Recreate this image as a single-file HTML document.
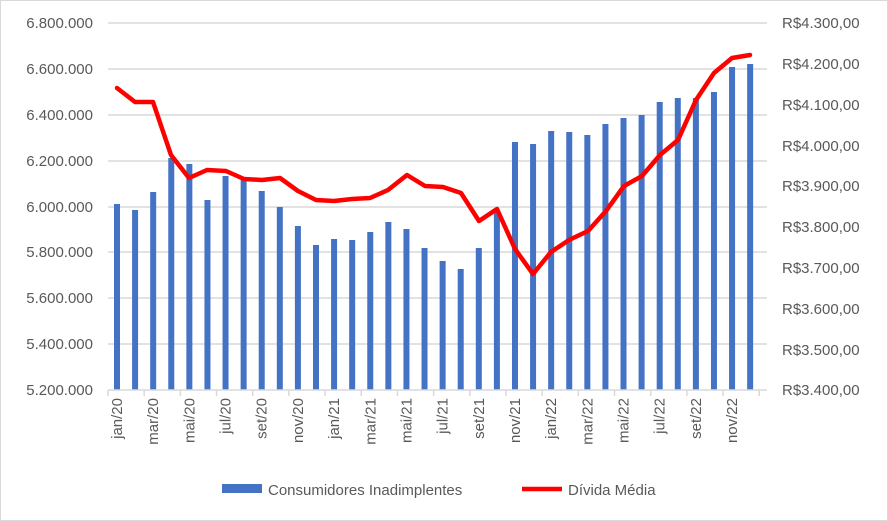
<!DOCTYPE html>
<html><head><meta charset="utf-8"><style>
body{margin:0;background:#fff}
svg{display:block;font-family:"Liberation Sans",sans-serif}
</style></head><body>
<svg width="888" height="521" viewBox="0 0 888 521">
<rect x="0.5" y="0.5" width="887" height="520" fill="#fff" stroke="#d9d9d9"/>
<g stroke="#d9d9d9" stroke-width="1.5">
<line x1="108" x2="767" y1="23" y2="23"/><line x1="108" x2="767" y1="69" y2="69"/>
<line x1="108" x2="767" y1="115" y2="115"/><line x1="108" x2="767" y1="161" y2="161"/>
<line x1="108" x2="767" y1="207" y2="207"/><line x1="108" x2="767" y1="252" y2="252"/>
<line x1="108" x2="767" y1="298" y2="298"/><line x1="108" x2="767" y1="344" y2="344"/>
</g>
<g fill="#595959" font-size="15" text-anchor="end">
<text x="93" y="28">6.800.000</text><text x="93" y="74">6.600.000</text><text x="93" y="120">6.400.000</text>
<text x="93" y="166">6.200.000</text><text x="93" y="212">6.000.000</text><text x="93" y="257">5.800.000</text>
<text x="93" y="303">5.600.000</text><text x="93" y="349">5.400.000</text><text x="93" y="395">5.200.000</text>
</g>
<g fill="#595959" font-size="15" text-anchor="start">
<text x="782" y="28">R$4.300,00</text><text x="782" y="69">R$4.200,00</text><text x="782" y="110">R$4.100,00</text>
<text x="782" y="151">R$4.000,00</text><text x="782" y="191">R$3.900,00</text><text x="782" y="232">R$3.800,00</text>
<text x="782" y="273">R$3.700,00</text><text x="782" y="314">R$3.600,00</text><text x="782" y="355">R$3.500,00</text>
<text x="782" y="395">R$3.400,00</text>
</g>
<g fill="#4472c4" id="bars"></g>
<line x1="108" x2="767" y1="390" y2="390" stroke="#d9d9d9" stroke-width="1.5"/>
<g id="ticks" stroke="#d9d9d9" stroke-width="1.5"></g>
<g id="labels" fill="#595959" font-size="15"></g>
<polyline fill="none" stroke="#ff0000" stroke-width="4.5" stroke-linejoin="round" stroke-linecap="round" points="117,88 135,102 153,102 171,155 189,178 207,170 226,171 244,179 262,180 280,178 298,191 316,200 334,201 352,199 370,198 388,190 407,175 425,186 443,187 461,193 479,221 497,209 515,249 533,274 551,252 569,240 588,231 606,211 624,186 642,176 660,155 678,140 696,100 714,73 732,58 750,55"/>
<rect x="222" y="484" width="40" height="9" fill="#4472c4"/>
<text x="268" y="495" font-size="15" fill="#595959">Consumidores Inadimplentes</text>
<line x1="522" x2="562" y1="489" y2="489" stroke="#ff0000" stroke-width="4.5"/>
<text x="568" y="495" font-size="15" fill="#595959">Dívida Média</text>
</svg>
<script>
var tops=[204,210,192,158,164,200,176,180,191,207,226,245,239,240,232,222,229,248,261,269,248,210,142,144,131,132,135,124,118,115,102,98,98,92,67,64];
var names=["jan/20","mar/20","mai/20","jul/20","set/20","nov/20","jan/21","mar/21","mai/21","jul/21","set/21","nov/21","jan/22","mar/22","mai/22","jul/22","set/22","nov/22"];
var ns="http://www.w3.org/2000/svg",b=document.getElementById("bars"),t=document.getElementById("ticks"),l=document.getElementById("labels");
tops.forEach(function(y,i){var x=117+i*18.09;var r=document.createElementNS(ns,"rect");r.setAttribute("x",x-3);r.setAttribute("y",y);r.setAttribute("width",6);r.setAttribute("height",390-y);b.appendChild(r);});
for(var k=0;k<=18;k++){var x=108+k*36.18;var ln=document.createElementNS(ns,"line");ln.setAttribute("x1",x);ln.setAttribute("x2",x);ln.setAttribute("y1",390);ln.setAttribute("y2",396);t.appendChild(ln);}
names.forEach(function(n,k){var x=117+k*36.18+5;var tx=document.createElementNS(ns,"text");tx.setAttribute("transform","translate("+x+",398) rotate(-90)");tx.setAttribute("text-anchor","end");tx.textContent=n;l.appendChild(tx);});
</script>
</body></html>
